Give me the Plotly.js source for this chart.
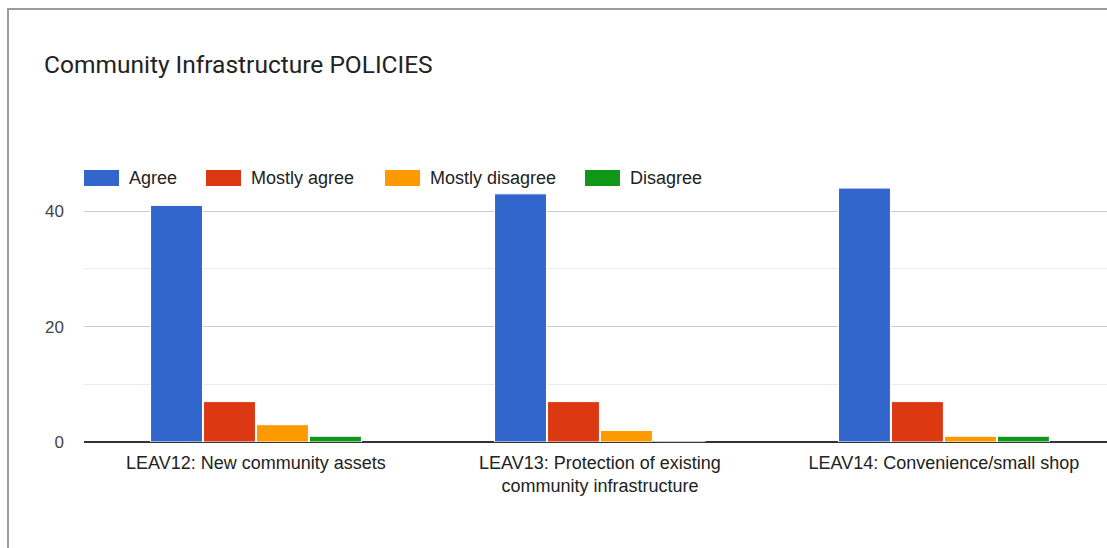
<!DOCTYPE html>
<html>
<head>
<meta charset="utf-8">
<script src="https://cdn.plot.ly/plotly-3.0.1.min.js"></script>
<style>
  html, body { margin: 0; padding: 0; background: #fff; overflow: hidden; }
  #wrap { position: relative; width: 1107px; height: 548px; }
  #frame { position: absolute; left: 7px; top: 8px; width: 1110px; height: 560px;
           border-top: 2px solid #9b9b9b; border-left: 2px solid #9b9b9b; pointer-events: none; z-index: 5; }
  #chart { position: absolute; left: 0; top: 0; width: 1107px; height: 548px; }
</style>
</head>
<body>
<div id="wrap">
  <div id="chart"></div>
  <div id="frame"></div>
</div>
<script>
const categories = [
  "LEAV12: New community assets",
  "LEAV13: Protection of existing<br>community infrastructure",
  "LEAV14: Convenience/small shop"
];
const seriesNames = ["Agree", "Mostly agree", "Mostly disagree", "Disagree"];
const agree = [41, 43, 44];
const mostlyAgree = [7, 7, 7];
const mostlyDisagree = [3, 2, 1];
const disagree = [1, 0, 1];
const colors = ["#3366cc", "#dc3912", "#ff9900", "#109618"];

const values = [agree, mostlyAgree, mostlyDisagree, disagree];
const traces = values.map((v, i) => ({
  type: "bar",
  name: seriesNames[i],
  x: [0, 1, 2],
  y: v,
  marker: { color: colors[i], line: { color: "#ffffff", width: 1 } },
  hoverinfo: "name+y",
  showlegend: false
}));

// plot-area geometry (pixels) used to place the custom legend
const PL = 84, PR = 1107, PT = 165, PB = 442;
const px2x = p => (p - PL) / (PR - PL);
const px2y = p => (PB - p) / (PB - PT);
const swatchLeft = [84, 206, 385, 585];
const swatchW = 35, swatchTop = 170, swatchBot = 186;

const shapes = seriesNames.map((n, i) => ({
  type: "rect", xref: "paper", yref: "paper", layer: "above",
  x0: px2x(swatchLeft[i]), x1: px2x(swatchLeft[i] + swatchW),
  y0: px2y(swatchBot), y1: px2y(swatchTop),
  fillcolor: colors[i], line: { width: 0 }
}));
const annotations = seriesNames.map((n, i) => ({
  text: n, xref: "paper", yref: "paper", showarrow: false,
  x: px2x(swatchLeft[i] + swatchW + 8), xanchor: "left",
  y: px2y(178), yanchor: "middle",
  font: { family: "'Liberation Sans', Arial, sans-serif", size: 18, color: "#222222" }
}));

const layout = {
  width: 1107,
  height: 548,
  paper_bgcolor: "#ffffff",
  plot_bgcolor: "#ffffff",
  margin: { l: PL, r: 1107 - PR, t: PT, b: 548 - PB, pad: 0 },
  barmode: "group",
  bargap: 0.384,
  bargroupgap: 0.02,
  title: {
    text: "Community Infrastructure POLICIES",
    font: { family: "Roboto, 'Open Sans', sans-serif", size: 24.5, color: "#222222" },
    xref: "container", x: 44 / 1107, xanchor: "left",
    yref: "container", y: 1 - 64 / 548, yanchor: "middle"
  },
  showlegend: false,
  shapes: shapes,
  annotations: annotations,
  xaxis: {
    range: [-0.5, 2.474],
    tickmode: "array",
    tickvals: [0, 1, 2],
    ticktext: categories,
    showgrid: false,
    zeroline: false,
    showline: false,
    ticks: "",
    ticklabelstandoff: 8,
    tickfont: { family: "'Liberation Sans', Arial, sans-serif", size: 18, color: "#222222" },
    fixedrange: true
  },
  yaxis: {
    range: [0, 48],
    tickmode: "linear",
    tick0: 0,
    dtick: 20,
    showgrid: true,
    gridcolor: "#cccccc",
    gridwidth: 1,
    minor: { dtick: 10, showgrid: true, gridcolor: "#ebebeb", gridwidth: 1 },
    zeroline: true,
    zerolinecolor: "#333333",
    zerolinewidth: 2,
    showline: false,
    ticks: "",
    ticklabelstandoff: 19,
    tickfont: { family: "'Liberation Sans', Arial, sans-serif", size: 17, color: "#444444" },
    fixedrange: true
  }
};

Plotly.newPlot("chart", traces, layout, { displayModeBar: false });
</script>
</body>
</html>
